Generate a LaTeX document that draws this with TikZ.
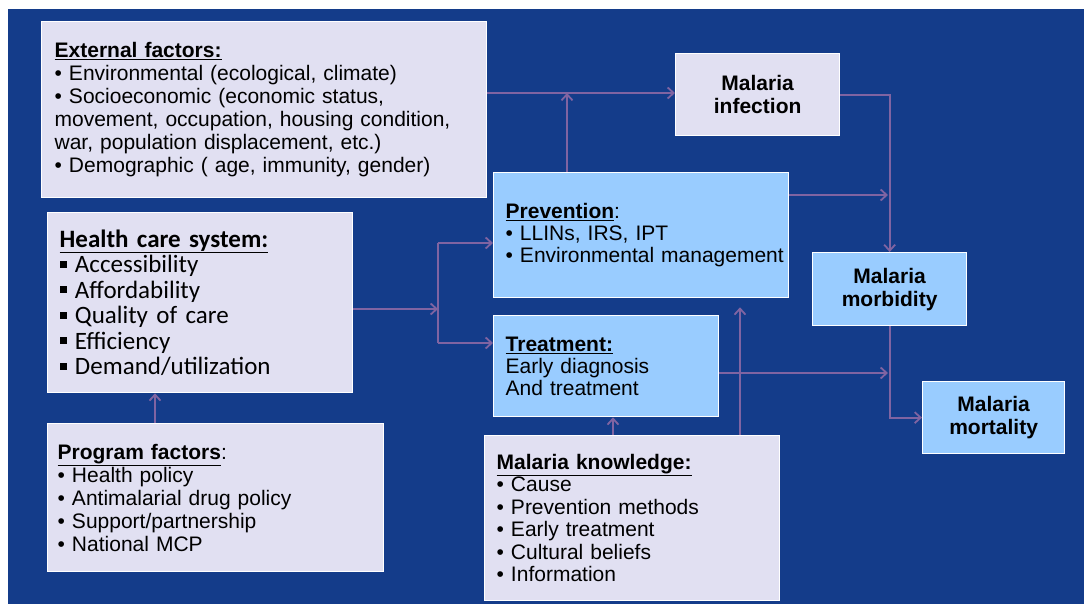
\documentclass[tikz,border=0pt]{standalone}
\usepackage{fontspec}
\setmainfont{Liberation Sans}
\newfontfamily\calibrifont{Carlito}
\usetikzlibrary{arrows.meta}
\definecolor{slideblue}{HTML}{143C8A}
\definecolor{lavender}{HTML}{E1E0F2}
\definecolor{skyblue}{HTML}{99CCFF}
\definecolor{arrowpurple}{HTML}{8064A2}
\newcommand{\sqbullet}{\rule[0.2em]{0.28em}{0.28em}}
\tikzset{
  box/.style={draw=white, line width=1.3pt, anchor=north west, inner xsep=12pt, inner ysep=2pt,
    align=left, font=\fontsize{21}{23}\selectfont},
  lavbox/.style={box, fill=lavender},
  skybox/.style={box, fill=skyblue},
  outcome/.style={box, align=center, font=\fontsize{21}{23}\selectfont\bfseries},
  wire/.style={draw=arrowpurple, line width=1.8pt},
  link/.style={wire, -{Straight Barb[length=6pt,width=11pt]}}
}

\begin{document}
\begin{tikzpicture}[x=1pt, y=-1pt]
  \useasboundingbox (0,0) rectangle (1084,604);
  \fill[slideblue] (8,9) rectangle (1084,604);

  \node[lavbox, minimum width=445pt, minimum height=176pt, text width=419pt, inner xsep=13pt] (ext) at (41,21)
    {\textbf{\underline{External factors:}}\\
     • Environmental (ecological, climate)\\
     • Socioeconomic (economic status,\\
     movement, occupation, housing condition,\\
     war, population displacement, etc.)\\
     • Demographic ( age, immunity, gender)};
  \node[lavbox, minimum width=305pt, minimum height=180pt, text width=281pt,
    font=\calibrifont\fontsize{25}{25.5}\selectfont] (hcs) at (47,212)
    {\textbf{\underline{Health care system:}}\\
     \sqbullet~Accessibility\\
     \sqbullet~Affordability\\
     \sqbullet~Quality of care\\
     \sqbullet~Efficiency\\
     \sqbullet~Demand/utilization};
  \node[lavbox, minimum width=336pt, minimum height=148pt, text width=316pt, inner xsep=10pt] (prog) at (47,423)
    {\textbf{\underline{Program factors}}:\\
     • Health policy\\
     • Antimalarial drug policy\\
     • Support/partnership\\
     • National MCP};
  \node[outcome, fill=lavender, minimum width=164pt, minimum height=82pt] (inf) at (675,53) {Malaria\\infection};
  \node[skybox, minimum width=295pt, minimum height=125pt, text width=271pt,
    font=\fontsize{21}{22}\selectfont] (prev) at (493,172)
    {\textbf{\underline{Prevention}}:\\
     • LLINs, IRS, IPT\\
     \mbox{• Environmental management}};
  \node[skybox, minimum width=225pt, minimum height=101pt, text width=201pt,
    font=\fontsize{21}{22}\selectfont] (treat) at (493,315)
    {\textbf{\underline{Treatment:}}\\
     Early diagnosis\\
     And treatment};
  \node[lavbox, minimum width=295pt, minimum height=165pt, text width=271pt,
    font=\fontsize{21}{22.5}\selectfont] (know) at (484,435)
    {\textbf{\underline{Malaria knowledge:}}\\
     • Cause\\
     • Prevention methods\\
     • Early treatment\\
     • Cultural beliefs\\
     • Information};
  \node[outcome, fill=skyblue, minimum width=154pt, minimum height=73pt] (morb) at (812,252) {Malaria\\morbidity};
  \node[outcome, fill=skyblue, minimum width=142pt, minimum height=72pt] (mort) at (922,381) {Malaria\\mortality};

  \coordinate (infjoin) at (567,93);
  \coordinate (split) at (438,309);
  \coordinate (splitup) at (438,243);
  \coordinate (splitdown) at (438,343);
  \coordinate (morbjoin) at (888,195);
  \coordinate (mortjoin) at (888,373);
  \coordinate (progout) at (155,423);
  \coordinate (knowtreat) at (613,435);
  \coordinate (knowprev) at (740,435);

  \draw[link] (ext.east |- infjoin) -- (inf.west |- infjoin);
  \draw[link] (prev.north -| infjoin) -- (infjoin);
  \draw[link] (inf.east) -| (morb.north);
  \draw[link] (prev.east |- morbjoin) -- (morbjoin);
  \draw[link] (hcs.east |- split) -- (split);
  \draw[wire] (splitup) -- (splitdown);
  \draw[link] (splitup) -- (prev.west |- splitup);
  \draw[link] (splitdown) -- (treat.west |- splitdown);
  \draw[link] (treat.east |- mortjoin) -- (mortjoin);
  \draw[link] (morb.south) |- (mort.west);
  \draw[link] (knowtreat) -- (knowtreat |- treat.south);
  \draw[link, shorten >=9pt] (knowprev) -- (knowprev |- prev.south);
  \draw[link] (progout) -- (progout |- hcs.south);
\end{tikzpicture}
\end{document}
